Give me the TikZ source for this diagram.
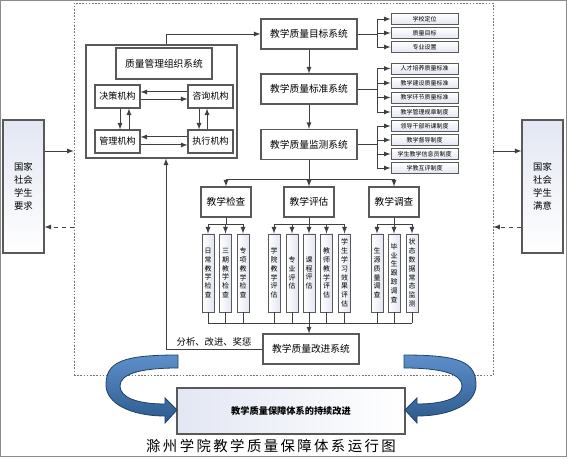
\documentclass[tikz,border=0pt]{standalone}
\usepackage{fontspec}
\newfontfamily\cjk{Noto Sans CJK SC}
\usepackage{tikz}

\definecolor{boxline}{HTML}{595959}
\definecolor{linkgray}{HTML}{404040}
\definecolor{lavender}{HTML}{E3E7F3}
\definecolor{arrowlight}{HTML}{5E8FCB}
\definecolor{arrowdark}{HTML}{2B5A8C}
\definecolor{arrowedge}{HTML}{1F4266}

\tikzset{
  sysbox/.style={draw=boxline,line width=0.8pt,fill=white,shape=rectangle,inner sep=0pt,
    minimum width=72pt,minimum height=22.5pt,font=\cjk\fontsize{7.3}{8}\selectfont},
  unitbox/.style={draw=boxline,line width=0.8pt,fill=white,shape=rectangle,inner sep=0pt,
    minimum width=33.75pt,minimum height=17.25pt,font=\cjk\fontsize{6.8}{8}\selectfont},
  catbox/.style={draw=boxline,line width=0.8pt,fill=white,shape=rectangle,inner sep=0pt,
    minimum width=37.5pt,minimum height=22.5pt,font=\cjk\fontsize{7.3}{8}\selectfont},
  itembox/.style={draw=boxline,line width=0.7pt,top color=white,bottom color=lavender,
    shape=rectangle,inner sep=0pt,minimum width=50.25pt,minimum height=8.25pt,
    font=\cjk\fontsize{4.5}{5}\selectfont},
  vbox/.style={draw=boxline,line width=0.7pt,left color=white,right color=lavender,
    shape=rectangle,inner sep=0pt,minimum width=9pt,minimum height=58.5pt,align=center,
    font=\cjk\fontsize{5.2}{6.6}\selectfont},
  sidebox/.style={draw=boxline,line width=0.8pt,top color=lavender,bottom color=white,
    shape=rectangle,inner sep=0pt,minimum width=30.75pt,minimum height=99.75pt,align=center,
    font=\cjk\fontsize{7}{9.75}\selectfont},
  link/.style={draw=linkgray,line width=0.7pt},
  loopback/.pic={
    \path[draw=arrowedge,line width=0.6pt,top color=arrowlight,bottom color=arrowdark]
      (178,355) .. controls (122,355) and (106,362) .. (106,385)
      .. controls (106,403) and (130,416) .. (165,416)
      -- (165,423) -- (177,410) -- (165,398) -- (165,404)
      .. controls (136,404) and (120,397) .. (120,386)
      .. controls (120,374) and (140,368) .. (178,368) -- cycle;
  }
}

\begin{document}
\begin{tikzpicture}[x=0.75pt,y=-0.75pt]
\useasboundingbox (0,0) rectangle (567,459);
\draw[black!45] (0.5,0.5) rectangle (566.5,456);

% dashed frame round the system
\node (frame) [draw=black!55,line width=0.5pt,dash pattern=on 1.2pt off 1.2pt,
  inner sep=0pt,minimum width=314.25pt,minimum height=279pt] at (283.5,189) {};

% outside
\node (demand) [sidebox] at (23.5,186.5) {国家\\社会\\学生\\要求};
\node (satisfy) [sidebox] at (542.5,186.5) {国家\\社会\\学生\\满意};
\coordinate (inlevel) at (0,151);
\coordinate (backlevel) at (0,227);
\draw[link,-latex] (demand.east |- inlevel) -- (frame.west |- inlevel);
\draw[link,-latex] (frame.east |- inlevel) -- (satisfy.west |- inlevel);
\draw[link,dashed,-latex] (frame.west |- backlevel) -- (demand.east |- backlevel);
\draw[link,dashed,-latex] (satisfy.west |- backlevel) -- (frame.east |- backlevel);

% organisation
\node (orgbox) [draw=boxline,line width=0.8pt,fill=white,inner sep=0pt,
  minimum width=113.25pt,minimum height=84.75pt] at (161.5,101.5) {};
\node (orgtitle) [sysbox,minimum height=23.25pt] at (164,63.5) {质量管理组织系统};
\node (decide) [unitbox] at (117.5,96.5) {决策机构};
\node (advise) [unitbox] at (210.5,96.5) {咨询机构};
\node (manage) [unitbox] at (117.5,141.5) {管理机构};
\node (execute) [unitbox] at (210.5,141.5) {执行机构};

\draw[link,-latex] ([yshift=3.4pt]advise.west) -- ([yshift=3.4pt]decide.east);
\draw[link,-latex] ([yshift=-1.9pt]decide.east) -- ([yshift=-1.9pt]advise.west);
\draw[link,-latex] ([yshift=3.4pt]execute.west) -- ([yshift=3.4pt]manage.east);
\draw[link,-latex] ([yshift=-2.6pt]manage.east) -- ([yshift=-2.6pt]execute.west);
\draw[link,-latex] ([xshift=1.9pt]decide.south) -- ([xshift=1.9pt]manage.north);
\draw[link,-latex] ([xshift=8.6pt]manage.north) -- ([xshift=8.6pt]decide.south);
\draw[link,-latex] ([xshift=-8.6pt]advise.south) -- ([xshift=-8.6pt]execute.north);
\draw[link,-latex] ([xshift=-2.6pt]execute.north) -- ([xshift=-2.6pt]advise.south);

% main chain
\node (goal) [sysbox] at (309,34) {教学质量目标系统};
\node (standard) [sysbox] at (309,89) {教学质量标准系统};
\node (monitor) [sysbox] at (309,144.5) {教学质量监测系统};
\node (improve) [sysbox] at (311,349) {教学质量改进系统};

\draw[link,-latex] (goal) -- (standard);
\draw[link,-latex] (standard) -- (monitor);

\coordinate (feedback) at (166,349);
\draw[link,-latex] (feedback |- orgbox.north) |- (goal.west);
\draw[link,-latex] (improve.west) -- (feedback) -- (feedback |- orgbox.south);
\node (feedlabel) [font=\cjk\fontsize{7}{8}\selectfont] at (214,342) {分析、改进、奖惩};

% goal items
\node (g1) [itembox] at (424.5,19) {学校定位};
\node (g2) [itembox] at (424.5,33) {质量目标};
\node (g3) [itembox] at (424.5,47) {专业设置};
\coordinate (goalbus) at (377,34);
\draw[link] (goal) -- (goalbus);
\draw[link] (goalbus |- g1) -- (goalbus |- g3);
\draw[link,-latex] (goalbus |- g1) -- (g1);
\draw[link,-latex] (goalbus |- g2) -- (g2);
\draw[link,-latex] (goalbus |- g3) -- (g3);

% standard items
\node (s1) [itembox] at (424.5,68.5) {人才培养质量标准};
\node (s2) [itembox] at (424.5,83) {教学建设质量标准};
\node (s3) [itembox] at (424.5,97.5) {教学环节质量标准};
\node (s4) [itembox] at (424.5,112) {教学管理规章制度};
\coordinate (standardbus) at (377,89);
\draw[link] (standard) -- (standardbus);
\draw[link] (standardbus |- s1) -- (standardbus |- s4);
\draw[link,-latex] (standardbus |- s1) -- (s1);
\draw[link,-latex] (standardbus |- s2) -- (s2);
\draw[link,-latex] (standardbus |- s3) -- (s3);
\draw[link,-latex] (standardbus |- s4) -- (s4);

% monitor items
\node (m1) [itembox] at (424.5,126) {领导干部听课制度};
\node (m2) [itembox] at (424.5,140) {教学督导制度};
\node (m3) [itembox] at (424.5,154) {学生教学信息员制度};
\node (m4) [itembox] at (424.5,168) {学教互评制度};
\coordinate (monitorbus) at (377,144.5);
\draw[link] (monitor) -- (monitorbus);
\draw[link] (monitorbus |- m1) -- (monitorbus |- m4);
\draw[link,-latex] (monitorbus |- m1) -- (m1);
\draw[link,-latex] (monitorbus |- m2) -- (m2);
\draw[link,-latex] (monitorbus |- m3) -- (m3);
\draw[link,-latex] (monitorbus |- m4) -- (m4);

% check, evaluation, survey
\node (check) [catbox] at (226,202) {教学检查};
\node (evaluate) [catbox] at (309,202) {教学评估};
\node (survey) [catbox] at (394,202) {教学调查};
\coordinate (catbus) at (309,179);
\draw[link] (monitor) -- (catbus);
\draw[link] (catbus -| check) -- (catbus -| survey);
\draw[link,-latex] (catbus -| check) -- (check);
\draw[link,-latex] (catbus -| evaluate) -- (evaluate);
\draw[link,-latex] (catbus -| survey) -- (survey);

\node (c1) [vbox] at (208,273) {日\\常\\教\\学\\检\\查};
\node (c2) [vbox] at (225.5,273) {三\\期\\教\\学\\检\\查};
\node (c3) [vbox] at (243,273) {专\\项\\教\\学\\检\\查};
\node (e1) [vbox] at (274,273) {学\\院\\教\\学\\评\\估};
\node (e2) [vbox] at (292,273) {专\\业\\评\\估};
\node (e3) [vbox] at (309,273) {课\\程\\评\\估};
\node (e4) [vbox] at (326.5,273) {教\\师\\教\\学\\评\\估};
\node (e5) [vbox] at (344.5,273) {学\\生\\学\\习\\效\\果\\评\\估};
\node (v1) [vbox] at (377,273) {生\\源\\质\\量\\调\\查};
\node (v2) [vbox] at (394,273) {毕\\业\\生\\跟\\踪\\调\\查};
\node (v3) [vbox] at (412,273) {状\\态\\数\\据\\常\\态\\监\\测};

\coordinate (checkbus) at (226,224);
\draw[link] (check) -- (checkbus);
\draw[link] (checkbus -| c1) -- (checkbus -| c3);
\draw[link,-latex] (checkbus -| c1) -- (c1);
\draw[link,-latex] (checkbus -| c2) -- (c2);
\draw[link,-latex] (checkbus -| c3) -- (c3);

\coordinate (evalbus) at (309,224);
\draw[link] (evaluate) -- (evalbus);
\draw[link] (evalbus -| e1) -- (evalbus -| e5);
\draw[link,-latex] (evalbus -| e1) -- (e1);
\draw[link,-latex] (evalbus -| e2) -- (e2);
\draw[link,-latex] (evalbus -| e3) -- (e3);
\draw[link,-latex] (evalbus -| e4) -- (e4);
\draw[link,-latex] (evalbus -| e5) -- (e5);

\coordinate (surveybus) at (394,224);
\draw[link] (survey) -- (surveybus);
\draw[link] (surveybus -| v1) -- (surveybus -| v3);
\draw[link,-latex] (surveybus -| v1) -- (v1);
\draw[link,-latex] (surveybus -| v2) -- (v2);
\draw[link,-latex] (surveybus -| v3) -- (v3);

% gather into improvement
\coordinate (sumbus) at (309,323);
\draw[link] (c1) -- (c1 |- sumbus);
\draw[link] (c2) -- (c2 |- sumbus);
\draw[link] (c3) -- (c3 |- sumbus);
\draw[link] (e1) -- (e1 |- sumbus);
\draw[link] (e2) -- (e2 |- sumbus);
\draw[link] (e3) -- (e3 |- sumbus);
\draw[link] (e4) -- (e4 |- sumbus);
\draw[link] (e5) -- (e5 |- sumbus);
\draw[link] (v1) -- (v1 |- sumbus);
\draw[link] (v2) -- (v2 |- sumbus);
\draw[link] (v3) -- (v3 |- sumbus);
\draw[link] (c1 |- sumbus) -- (v3 |- sumbus);
\draw[link,-latex] (sumbus) -- (sumbus |- improve.north);

% continuous improvement
\node (keep) [draw=boxline,line width=0.8pt,left color=lavender,right color=white,
  inner sep=0pt,minimum width=171pt,minimum height=34.5pt,
  font=\cjk\bfseries\fontsize{6.9}{8}\selectfont] at (291,411) {教学质量保障体系的持续改进};
\pic at (0,0) {loopback};
\pic[xscale=-1] at (582,0) {loopback};

\node (caption) [font=\cjk\fontsize{10.8}{12}\selectfont] at (271,446)
  {滁\,州\,学\,院\,教\,学\,质\,量\,保\,障\,体\,系\,运\,行\,图};
\end{tikzpicture}
\end{document}
